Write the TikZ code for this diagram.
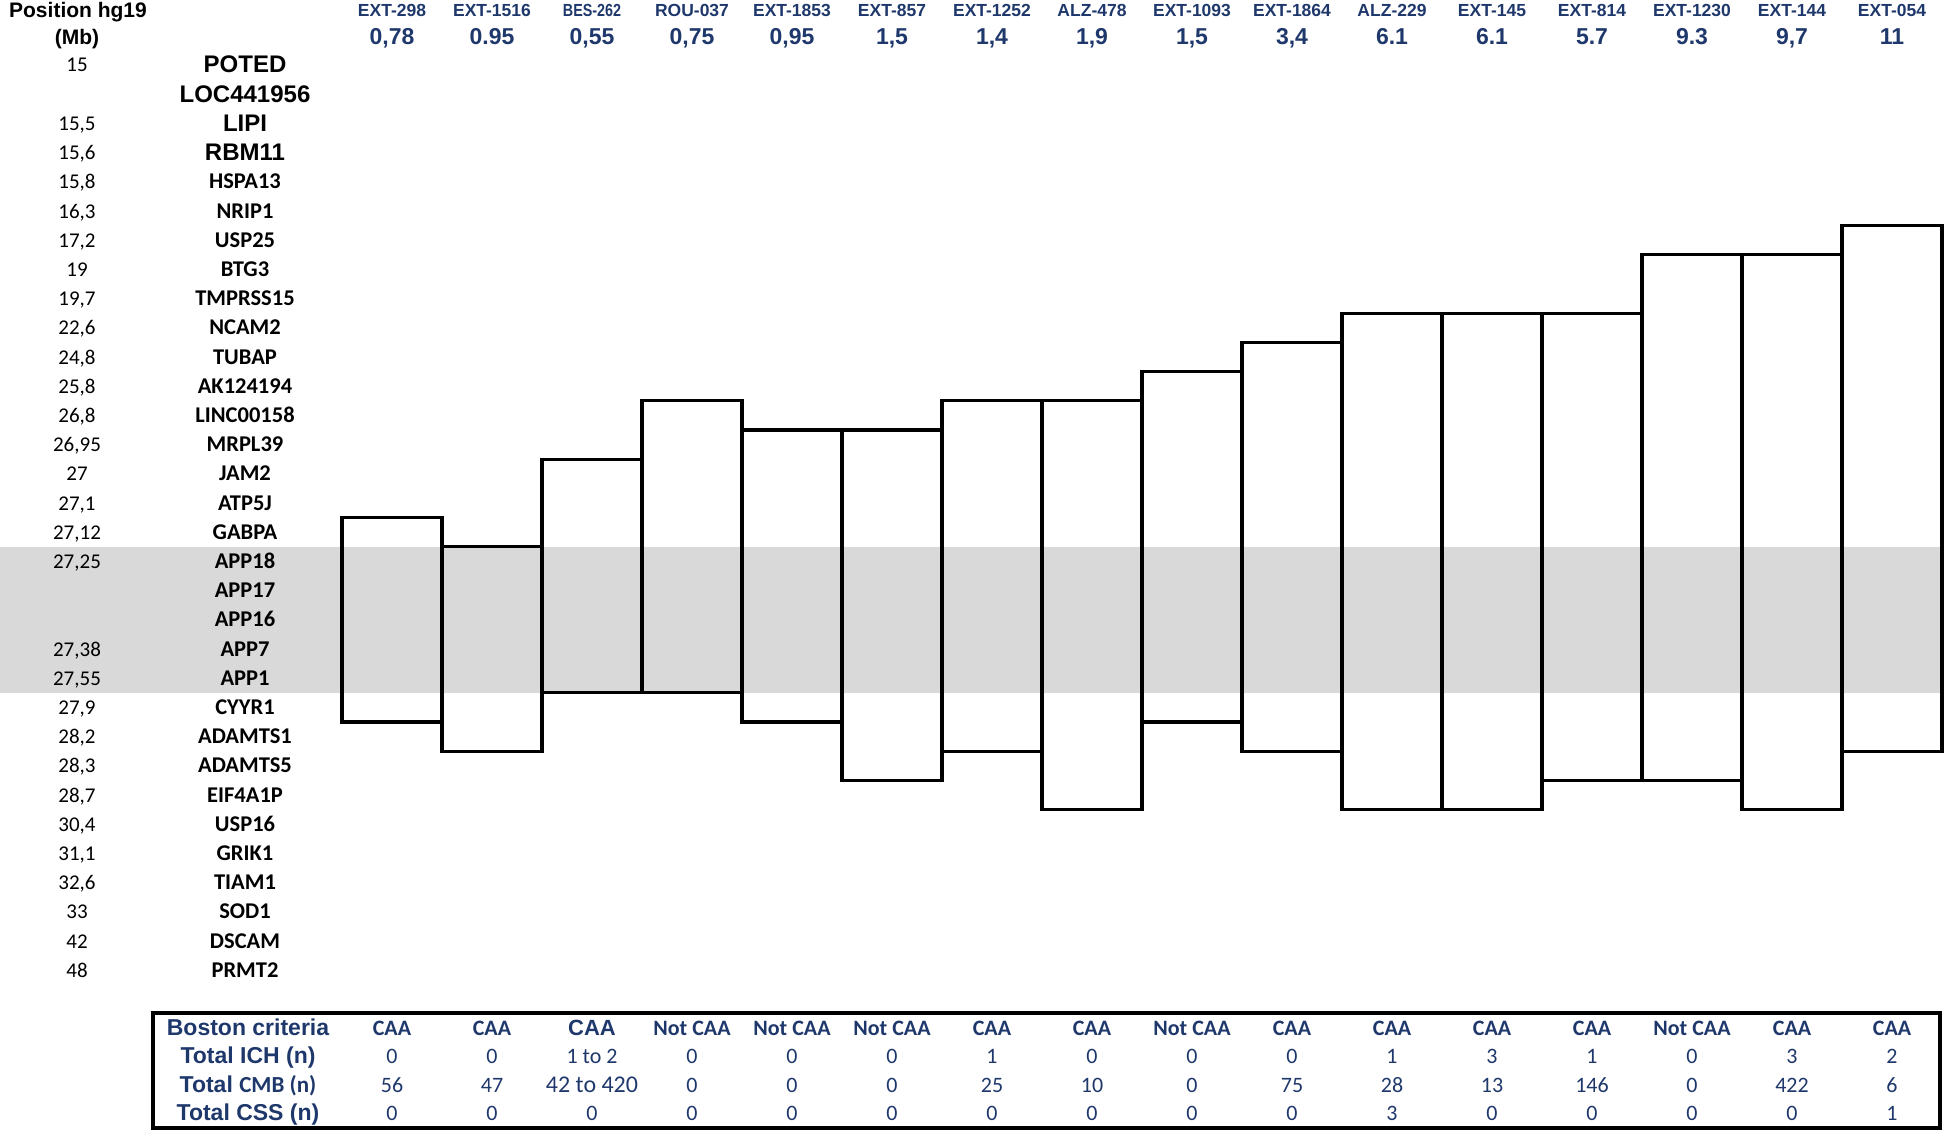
\documentclass[tikz,border=0pt]{standalone}
\usepackage{fontspec}
\setmainfont{Carlito}
\newfontfamily\arial{Liberation Sans}
\newfontfamily\arialn[FakeStretch=0.82]{Liberation Sans}
\definecolor{azul}{RGB}{31,56,108}
\definecolor{gris}{RGB}{217,217,217}
\newcommand{\grande}{\fontsize{24}{24}\selectfont}

\begin{document}
\begin{tikzpicture}[x=1pt, y=-1pt,
    num/.style={anchor=base, font=\fontsize{21}{21}\selectfont},
    gen/.style={anchor=base, font=\fontsize{22.5}{22.5}\selectfont\bfseries},
    genA/.style={anchor=base, font=\arial\fontsize{24}{24}\selectfont\bfseries},
    tit/.style={anchor=base, font=\arial\fontsize{21}{21}\selectfont\bfseries},
    muestra/.style={anchor=base, text=azul, font=\arial\fontsize{17.5}{17.5}\selectfont\bfseries},
    tam/.style={anchor=base, text=azul, font=\arial\fontsize{23}{23}\selectfont\bfseries},
    etiq/.style={anchor=base, text=azul, font=\arial\fontsize{23}{23}\selectfont\bfseries},
    crit/.style={anchor=base, text=azul, font=\fontsize{22}{22}\selectfont\bfseries},
    val/.style={anchor=base, text=azul, font=\fontsize{22}{22}\selectfont},
    caja/.style={line width=3.2},
    marco/.style={line width=4}]
    \useasboundingbox (0,0) rectangle (1944,1132);

    % Banda gris (APP)
    \fill[gris] (0,{65+29.2*16.5}) rectangle (1944,{65+29.2*21.5});

    % Titulo de la columna de posiciones
    \node[tit] (tit-pos) at (78,18) {Position hg19};
    \node[tit] (tit-mb) at (77,45) {(Mb)};

    % Posiciones y genes
    \foreach \p/\g [count=\i from 0] in {15/POTED, /LOC441956, {15,5}/LIPI, {15,6}/RBM11} {
        \node[num] (pos-\i) at (77,{72+29.2*\i}) {\p};
        \node[genA] (gen-\i) at (245,{73+29.2*\i}) {\g};
    }
    \foreach \p/\g [count=\i from 4] in {{15,8}/HSPA13, {16,3}/NRIP1, {17,2}/USP25, 19/BTG3,
        {19,7}/TMPRSS15, {22,6}/NCAM2, {24,8}/TUBAP, {25,8}/AK124194, {26,8}/LINC00158,
        {26,95}/MRPL39, 27/JAM2, {27,1}/ATP5J, {27,12}/GABPA, {27,25}/APP18, /APP17,
        /APP16, {27,38}/APP7, {27,55}/APP1, {27,9}/CYYR1, {28,2}/ADAMTS1, {28,3}/ADAMTS5,
        {28,7}/EIF4A1P, {30,4}/USP16, {31,1}/GRIK1, {32,6}/TIAM1, 33/SOD1, 42/DSCAM, 48/PRMT2} {
        \node[num] (pos-\i) at (77,{72+29.2*\i}) {\p};
        \node[gen] (gen-\i) at (245,{72+29.2*\i}) {\g};
    }

    % Muestras: nombre/tamano/fila inicial/fila final/criterios
    \foreach \m/\s/\t/\b/\c/\h/\k/\v [count=\i] in {
        EXT-298/{0,78}/16/22/CAA/0/56/0,
        EXT-1516/0.95/17/23/CAA/0/47/0,
        {\arialn BES-262}/{0,55}/14/21/{\arial CAA}/{1 to 2}/{\grande 42 to 420}/0,
        ROU-037/{0,75}/12/21/Not CAA/0/0/0,
        EXT-1853/{0,95}/13/22/Not CAA/0/0/0,
        EXT-857/{1,5}/13/24/Not CAA/0/0/0,
        EXT-1252/{1,4}/12/23/CAA/1/25/0,
        ALZ-478/{1,9}/12/25/CAA/0/10/0,
        EXT-1093/{1,5}/11/22/Not CAA/0/0/0,
        EXT-1864/{3,4}/10/23/CAA/0/75/0,
        ALZ-229/6.1/9/25/CAA/1/28/3,
        EXT-145/6.1/9/25/CAA/3/13/0,
        EXT-814/5.7/9/24/CAA/1/146/0,
        EXT-1230/9.3/7/24/Not CAA/0/0/0,
        EXT-144/{9,7}/7/25/CAA/3/422/0,
        EXT-054/11/6/23/CAA/2/6/1} {
        \draw[caja] ({342+100*(\i-1)},{65+29.2*(\t-0.5)}) rectangle ++(100,{29.2*(\b-\t+1)});
        \node[muestra] (mu-\i) at ({292+100*\i},17) {\m};
        \node[tam] (ta-\i) at ({292+100*\i},45) {\s};
        \node[crit] (bo-\i) at ({292+100*\i},1035) {\c};
        \node[val] (ich-\i) at ({292+100*\i},1063) {\h};
        \node[val] (cmb-\i) at ({292+100*\i},1092) {\k};
        \node[val] (css-\i) at ({292+100*\i},1120) {\v};
    }

    % Tabla inferior
    \draw[marco] (153,1013) rectangle (1940,1128);
    \node[etiq] (bos) at (248,1035) {Boston criteria};
    \node[etiq] (ich) at (248,1063) {Total ICH (n)};
    \node[etiq] (cmb) at (248,1092) {Total {\fontspec{Carlito}CMB (n)}};
    \node[etiq] (css) at (248,1120) {Total CSS (n)};
\end{tikzpicture}
\end{document}
